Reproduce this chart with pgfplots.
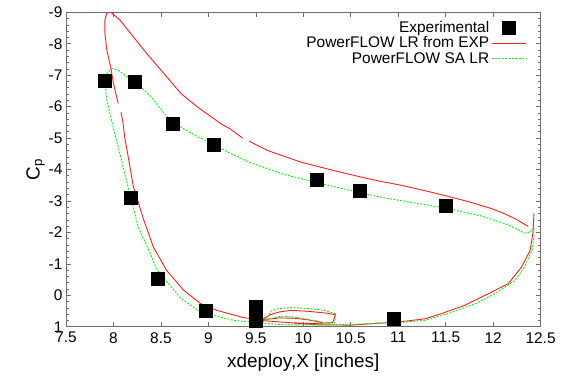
\documentclass[border=0pt]{standalone}
\usepackage{fontspec}
\setmainfont{Liberation Sans}
\usepackage{pgfplots}
\pgfplotsset{compat=1.18}
\definecolor{framegray}{RGB}{110,110,110}
\definecolor{cred}{RGB}{255,30,30}
\definecolor{cgreen}{RGB}{20,235,20}
\pgfplotsset{
  lineleg/.style={legend image code/.code={\draw[##1] (0cm,0cm) -- (1.2cm,0cm);}},
  markleg/.style={legend image code/.code={\path (0cm,0cm) (1.2cm,0cm); \draw[##1] plot coordinates {(0.6cm,0cm)};}},
  redline/.style={draw=cred, color=cred, line width=0.9pt, no marks},
  greenline/.style={draw=cgreen, color=cgreen, line width=0.9pt, no marks, dash pattern=on 2pt off 1.4pt},
}
\begin{document}
\begin{tikzpicture}
\begin{axis}[
  scale only axis, width=474.6bp, height=314.4bp,
  xmin=7.5, xmax=12.5, ymin=-9, ymax=1, y dir=reverse,
  xtick={7.5,8,8.5,9,9.5,10,10.5,11,11.5,12,12.5},
  ytick={-9,-8,-7,-6,-5,-4,-3,-2,-1,0,1},
  minor y tick num=4,
  xtick pos=both, ytick pos=both,
  tick align=inside,
  major tick length=5bp, minor tick length=3bp,
  axis line style={framegray, line width=0.8pt},
  every tick/.style={framegray, line width=0.6pt},
  /pgf/number format/assume math mode=true,
  tick label style={font=\fontsize{15.5}{17}\selectfont},
  xticklabel style={yshift=-2bp},
  label style={font=\fontsize{19}{21}\selectfont},
  xlabel={xdeploy,X [inches]},
  ylabel={C\textsubscript{p}},
  ylabel style={yshift=-3bp},
  xlabel style={yshift=-4bp},
  unbounded coords=jump,
  legend plot pos=right,
  legend cell align=right,
  legend style={draw=none, fill=none, at={(0.972,0.982)}, anchor=north east,
    cells={anchor=east}, row sep=-1bp, inner sep=1bp,
    font=\fontsize{15.5}{17}\selectfont},
]
\addlegendimage{only marks, mark=square*, mark size=6.5bp, draw=black, fill=black, markleg}
\addlegendentry{Experimental}
\addlegendimage{redline, lineleg}
\addlegendentry{PowerFLOW LR from EXP}
\addlegendimage{greenline, lineleg}
\addlegendentry{PowerFLOW SA LR}
% Experimental
\addplot[only marks, mark=square*, mark size=6.5bp, draw=black, fill=black, forget plot]
coordinates {
(7.91,-6.84) (8.22,-6.79) (8.62,-5.46) (9.06,-4.80) (10.14,-3.69) (10.59,-3.32)
(11.50,-2.86) (8.18,-3.11) (8.47,-0.53) (8.97,0.48) (9.50,0.35) (9.50,0.82) (10.95,0.75)
};
% PowerFLOW LR from EXP
\addplot[redline, forget plot]
coordinates {
(12.37,-2.19) (12.23,-2.44) (12.10,-2.62) (11.98,-2.76) (11.75,-2.97) (11.52,-3.15)
(11.25,-3.35) (11.03,-3.50) (10.82,-3.62) (10.68,-3.71) (10.33,-3.96) (9.97,-4.24)
(9.62,-4.61) (9.43,-4.90) (9.40,nan) (9.36,-5.00) (9.23,-5.29) (9.13,-5.46) (8.88,-6.00)
(8.71,-6.42) (8.53,-7.06) (8.35,-7.69) (8.21,-8.22) (8.07,-8.75) (8.00,-8.93)
(7.97,-9.00) (7.93,-8.98) (7.91,-8.75) (7.91,-8.34) (7.93,-7.80) (7.97,-7.27)
(8.00,-6.74) (8.05,-6.10) (8.06,nan) (8.08,-5.82) (8.10,-5.50) (8.12,-5.00) (8.15,-4.50)
(8.21,-3.45) (8.32,-2.39) (8.42,-1.54) (8.56,-0.79) (8.74,-0.16) (8.92,0.27)
(9.09,0.48) (9.37,0.71) (9.55,0.80) (9.80,0.86) (10.15,0.94) (10.50,0.95)
(10.85,0.88) (11.03,0.84) (11.28,0.75) (11.45,0.59) (11.70,0.32) (11.95,-0.05)
(12.16,-0.37) (12.30,-0.90) (12.39,-1.43) (12.42,-2.00) (12.43,-2.60)
};
% PowerFLOW SA LR
\addplot[greenline, forget plot]
coordinates {
(7.98,-7.22) (8.05,-7.15) (8.12,-7.00) (8.25,-6.74) (8.39,-6.33) (8.53,-5.80)
(8.62,-5.50) (8.75,-5.28) (8.90,-5.02) (9.06,-4.80) (9.20,-4.56) (9.44,-4.22)
(9.80,-3.84) (10.15,-3.58) (10.50,-3.33) (10.85,-3.10) (11.21,-2.92) (11.50,-2.77)
(11.88,-2.52) (12.16,-2.24) (12.33,-1.98) (12.39,-2.01) (12.43,-2.17) (12.43,-1.85)
(12.41,-1.43) (12.33,-0.90) (12.23,-0.47) (12.02,-0.05) (11.81,0.27) (11.52,0.59)
(11.28,0.80) (11.03,0.86) (10.82,0.88) (10.50,0.93) (10.15,0.94) (9.80,0.94)
(9.55,0.88) (9.27,0.80) (8.92,0.54) (8.71,0.10) (8.53,-0.55) (8.45,-0.85)
(8.39,-1.32) (8.26,-2.17) (8.18,-3.13) (8.11,-3.98) (8.05,-4.72) (8.00,-5.30)
(7.97,-5.70) (7.93,-6.21) (7.91,-6.80) (7.93,-7.05) (7.98,-7.22)
};
% small loops near 9.6-10.3
\addplot[redline, forget plot] coordinates {
(9.55,0.80) (9.65,0.62) (9.75,0.53) (9.87,0.48) (10.05,0.51) (10.25,0.57)
(10.34,0.62) (10.31,0.87) (10.10,0.90) (9.90,0.88)
};
\addplot[redline, forget plot] coordinates {
(9.57,0.78) (9.75,0.72) (9.90,0.73) (10.05,0.78) (10.20,0.87)
};
\addplot[greenline, forget plot] coordinates {
(9.57,0.86) (9.62,0.70) (9.66,0.50) (9.73,0.43) (9.87,0.39) (10.05,0.42)
(10.22,0.48) (10.34,0.59) (10.33,0.90)
};
\addplot[greenline, forget plot] coordinates {
(9.57,0.86) (9.62,0.76) (9.76,0.67) (9.90,0.69) (10.11,0.80) (10.29,0.90)
};
\end{axis}
\pgfresetboundingbox
\path ([shift={(-66bp,-50.3bp)}]current axis.south west) rectangle ([shift={(23.4bp,12.3bp)}]current axis.north east);
\end{tikzpicture}
\end{document}
